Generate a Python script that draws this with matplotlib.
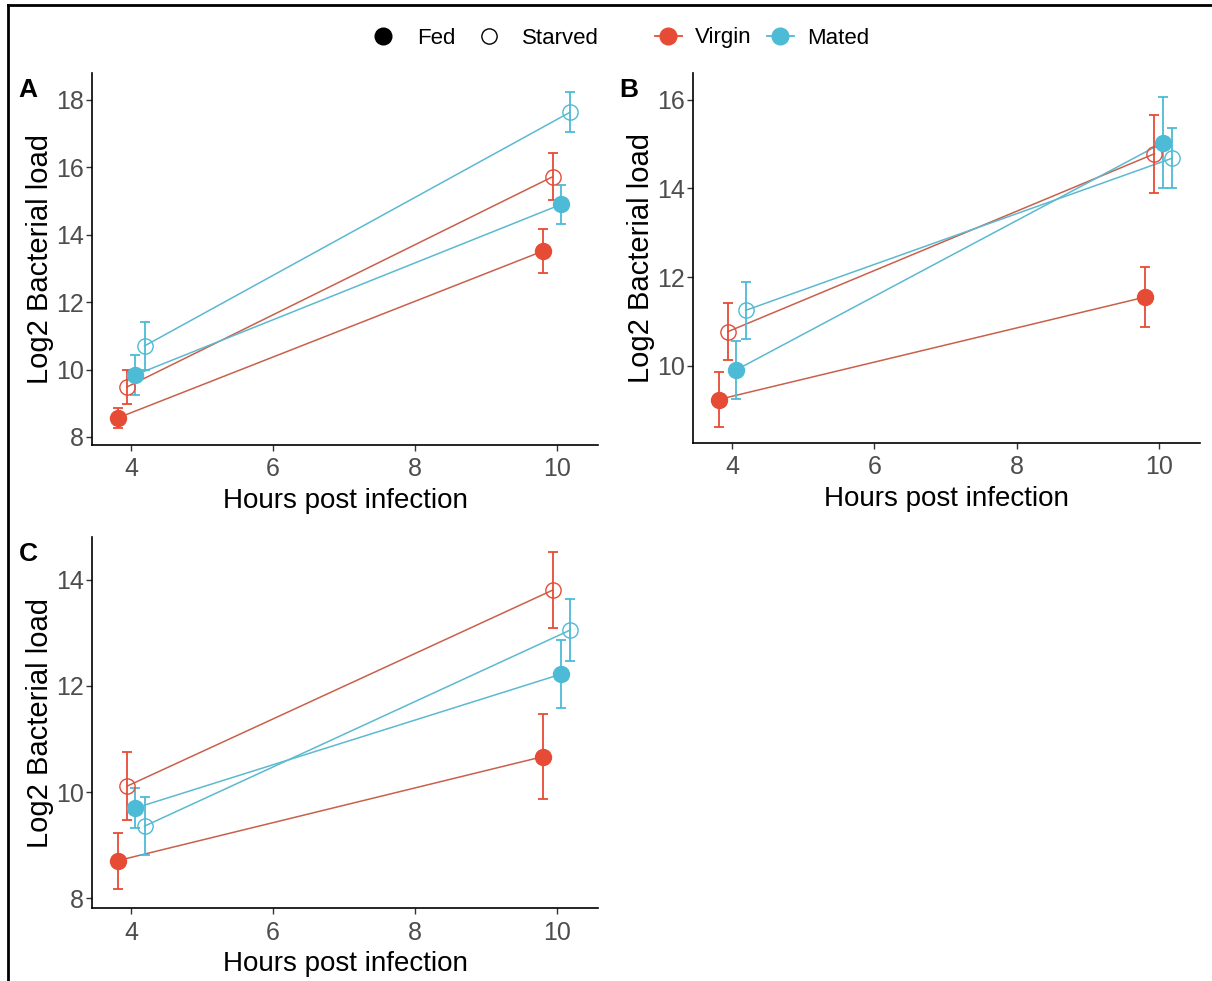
import numpy as np
import matplotlib
matplotlib.use("Agg")
import matplotlib.pyplot as plt
from matplotlib.lines import Line2D

plt.rcParams['font.family'] = ['Liberation Sans', 'DejaVu Sans']

# data: hours, means and error half-widths per panel and group
hours = [4, 10]
groups = ["Virgin Fed", "Virgin Starved", "Mated Fed", "Mated Starved"]
dodge = [-0.19, -0.06, 0.06, 0.19]

A_mean = [[8.56, 13.52], [9.48, 15.72], [9.84, 14.90], [10.70, 17.64]]
A_err = [[0.30, 0.66], [0.50, 0.70], [0.60, 0.57], [0.70, 0.60]]
B_mean = [[9.24, 11.55], [10.77, 14.78], [9.91, 15.03], [11.25, 14.68]]
B_err = [[0.63, 0.68], [0.65, 0.88], [0.65, 1.03], [0.65, 0.68]]
C_mean = [[8.71, 10.67], [10.11, 13.80], [9.70, 12.22], [9.36, 13.05]]
C_err = [[0.53, 0.80], [0.64, 0.71], [0.37, 0.64], [0.54, 0.58]]

A_yticks = [8, 10, 12, 14, 16, 18]
B_yticks = [10, 12, 14, 16]
C_yticks = [8, 10, 12, 14]

red = "#E64B35"
blue = "#4DBBD5"
pt_col = [red, red, blue, blue]
ln_col = ["#C9604C", "#C9604C", "#5CB9D0", "#5CB9D0"]
filled = [True, False, True, False]

W, H = 1212, 981
fig = plt.figure(figsize=(W / 100, H / 100), dpi=100)

def box(l, r, t, b):
    return [l / W, 1 - b / H, (r - l) / W, (b - t) / H]

def panel(rect, means, errs, yticks, ylim, letter):
    ax = fig.add_axes(box(*rect))
    for i in range(4):
        xs = [h + dodge[i] for h in hours]
        ax.plot(xs, means[i], color=ln_col[i], lw=1.1, zorder=2)
        ax.errorbar(xs, means[i], yerr=errs[i], fmt='none', ecolor=pt_col[i],
                    elinewidth=1.3, capsize=3.5, capthick=1.3, zorder=3)
        if filled[i]:
            ax.plot(xs, means[i], 'o', ms=11.5, color=pt_col[i], zorder=4)
        else:
            ax.plot(xs, means[i], 'o', ms=11, mfc='none', mec=pt_col[i],
                    mew=1.0, zorder=4)
    ax.set_xlim(3.45, 10.58)
    ax.set_ylim(*ylim)
    ax.set_xticks([4, 6, 8, 10])
    ax.set_yticks(yticks)
    for s in ['top', 'right']:
        ax.spines[s].set_visible(False)
    for s in ['left', 'bottom']:
        ax.spines[s].set_linewidth(1.2)
    ax.tick_params(labelsize=18, colors='#333333', labelcolor='#4D4D4D',
                   length=4, width=1.0, pad=2)
    ax.tick_params(axis='x', pad=5)
    ax.set_xlabel("Hours post infection", fontsize=20, labelpad=5)
    ax.set_ylabel("Log2 Bacterial load", fontsize=21, labelpad=1)
    ax.text(-0.145, 0.953, letter, transform=ax.transAxes, fontsize=19,
            fontweight='bold', va='center', ha='left')
    return ax

panel((92, 598, 73, 445), A_mean, A_err, A_yticks, (7.76, 18.8), "A")
panel((693, 1200, 73, 443), B_mean, B_err, B_yticks, (8.26, 16.6), "B")
panel((92, 598, 537, 908), C_mean, C_err, C_yticks, (7.82, 14.8), "C")

# legends
h1 = [Line2D([], [], ls='none', marker='o', ms=12, color='black'),
      Line2D([], [], ls='none', marker='o', ms=11, mfc='none', mec='black', mew=1)]
fig.legend(h1, ["Fed", "Starved"], loc='center', bbox_to_anchor=(480 / W, 1 - 38 / H),
           ncol=2, frameon=False, fontsize=16, handletextpad=0.5, columnspacing=0.5)
h2 = [Line2D([], [], color=red, marker='o', ms=12, lw=1.3),
      Line2D([], [], color=blue, marker='o', ms=12, lw=1.3)]
fig.legend(h2, ["Virgin", "Mated"], loc='center', bbox_to_anchor=(762 / W, 1 - 38 / H),
           ncol=2, frameon=False, fontsize=16, handlelength=1.2,
           handletextpad=0.6, columnspacing=0.7)

# outer frame (left and top edges)
fig.add_artist(Line2D([8 / W, 8 / W], [0, 1 - 5 / H], color='black', lw=2))
fig.add_artist(Line2D([8 / W, 1], [1 - 5 / H, 1 - 5 / H], color='black', lw=2))

fig.savefig("out.png", dpi=100)
